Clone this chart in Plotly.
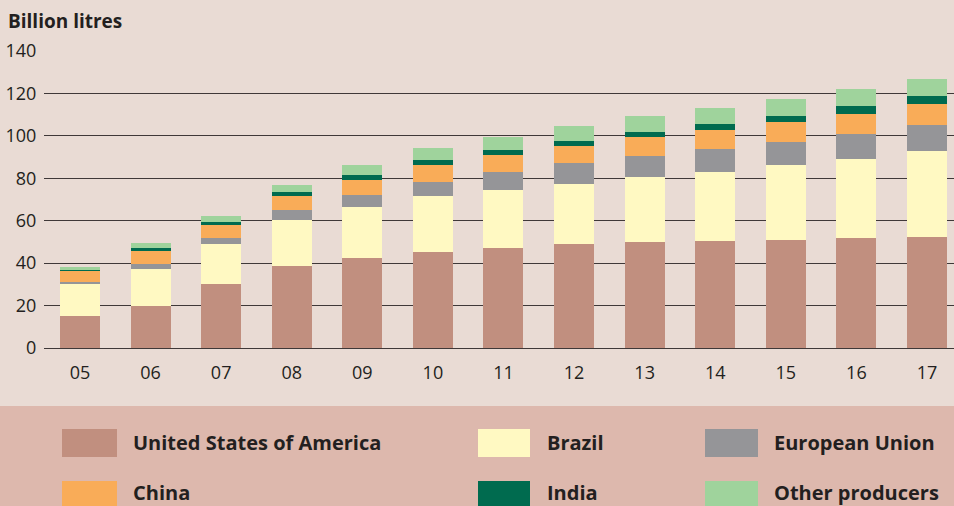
import plotly.graph_objects as go

years = ["05", "06", "07", "08", "09", "10", "11", "12", "13", "14", "15", "16", "17"]
usa = [14.9, 19.9, 30.3, 38.7, 42.5, 45.3, 47.2, 49.1, 50.0, 50.5, 51.0, 51.9, 52.4]
brazil = [15.4, 17.4, 18.8, 21.7, 24.0, 26.4, 27.3, 28.2, 30.6, 32.5, 35.3, 37.2, 40.4]
eu = [0.9, 2.4, 2.8, 4.7, 5.7, 6.6, 8.5, 9.9, 9.9, 10.8, 10.8, 11.7, 12.3]
china = [5.2, 6.1, 6.1, 6.6, 7.0, 8.0, 8.0, 8.0, 8.9, 8.9, 9.4, 9.5, 9.9]
india = [0.6, 1.4, 1.4, 1.9, 2.4, 2.3, 2.3, 2.4, 2.4, 2.8, 2.8, 3.7, 3.7]
other = [1.3, 2.4, 2.9, 3.3, 4.7, 5.7, 6.1, 7.0, 7.5, 7.6, 8.0, 8.0, 8.0]

series_names = ["United States of America", "Brazil", "European Union", "China", "India", "Other producers"]
series_values = [usa, brazil, eu, china, india, other]
series_colors = ["#C18F7F", "#FFF9C2", "#959598", "#F9AC58", "#006B4F", "#9FD39C"]

y_ticks = [0, 20, 40, 60, 80, 100, 120, 140]

W, H = 954, 506
L, R, T, B = 44, 0, 51, 158
PW, PH = W - L - R, H - T - B
TXT = "#231f20"


def px2x(px):
    return (px - L) / PW


def py2y(py):
    return (H - B - py) / PH


fig = go.Figure()
for name, vals, col in zip(series_names, series_values, series_colors):
    fig.add_trace(go.Bar(x=years, y=vals, name=name, marker=dict(color=col, line=dict(width=0)),
                         width=0.567, showlegend=False))

fig.update_layout(
    width=W, height=H,
    margin=dict(l=L, r=R, t=T, b=B, pad=0),
    barmode="stack",
    paper_bgcolor="#E9DBD4",
    plot_bgcolor="#E9DBD4",
    font=dict(family="Open Sans", size=18, color=TXT),
    xaxis=dict(type="category", range=[-0.51, 12.383], showgrid=False, zeroline=False,
               showline=False, ticks="outside", ticklen=8, tickcolor="rgba(0,0,0,0)",
               tickfont=dict(size=18, color=TXT)),
    yaxis=dict(range=[0, 140], tickvals=y_ticks, showgrid=True, gridcolor="#3f3838", gridwidth=1.4,
               zeroline=True, zerolinecolor="#3f3838", zerolinewidth=1.4, showline=False,
               ticks="outside", ticklen=3, tickcolor="rgba(0,0,0,0)",
               tickfont=dict(size=18, color=TXT)),
)

shapes = []
annotations = []
# legend band
shapes.append(dict(type="rect", xref="paper", yref="paper", x0=px2x(0), x1=px2x(W), y0=py2y(406), y1=py2y(H + 2),
                   fillcolor="#DDB8AD", line=dict(width=0), layer="below"))

leg_cols = [(62, 117, 131), (478, 530, 545), (705, 758, 772)]
leg_rows = [(429, 457, 442), (481, 509, 492)]
for i, (name, col) in enumerate(zip(series_names, series_colors)):
    r, c = divmod(i, 3)
    x0, x1, tx = leg_cols[c]
    y0, y1, ty = leg_rows[r]
    shapes.append(dict(type="rect", xref="paper", yref="paper", x0=px2x(x0), x1=px2x(x1),
                       y0=py2y(y1), y1=py2y(y0), fillcolor=col, line=dict(width=0)))
    annotations.append(dict(xref="paper", yref="paper", x=px2x(tx), y=py2y(ty), text="<b>" + name + "</b>",
                            showarrow=False, xanchor="left", yanchor="middle",
                            font=dict(family="Open Sans", size=20, color=TXT)))

annotations.append(dict(xref="paper", yref="paper", x=px2x(6), y=py2y(21), text="<b>Billion litres</b>",
                        showarrow=False, xanchor="left", yanchor="middle",
                        font=dict(family="Open Sans", size=19, color=TXT)))

fig.update_layout(shapes=shapes, annotations=annotations)
fig.write_html("out.html", config={"displayModeBar": False},
               post_script="document.body.style.margin='0';document.body.style.overflow='hidden';")
